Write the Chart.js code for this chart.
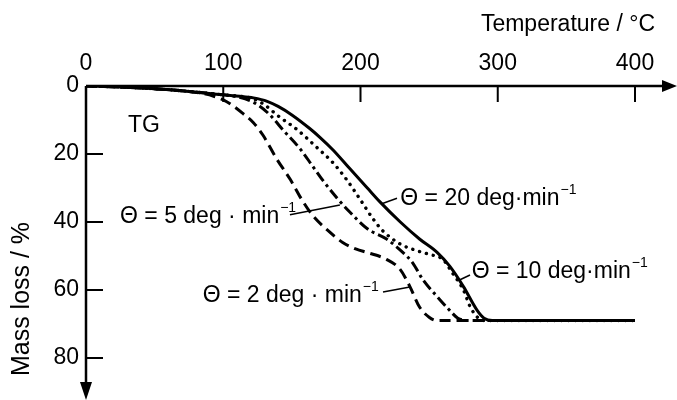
<!DOCTYPE html>
<html>
<head>
<meta charset="utf-8">
<script src="https://cdn.jsdelivr.net/npm/chart.js@4/dist/chart.umd.min.js"></script>
<style>
html,body{margin:0;padding:0;background:#fff}
</style>
</head>
<body>
<canvas id="chart" width="677" height="400"></canvas>
<script>

const xTicks=[0,100,200,300,400]
const yTicks=[0,20,40,60,80]

// heating rate 20 deg/min (solid)
const temp20=[0,25,50,75,100,112,122,132,140,150,163,171,180,192,205,214,229,243,256,265,275,285,290,296,400]
const loss20=[0,0.3,0.8,1.6,2.6,3.0,3.5,4.5,6,8.5,12.5,15.3,18.8,24.2,30,34,40,45,49,53,59,66,68.3,69,69]

// 10 deg/min (dotted)
const temp10=[0,25,50,75,100,112,122,130,140,154,168,180,190,200,209,216,229,240,250,260,267,275,280,286,292,400]
const loss10=[0,0.3,0.8,1.6,2.6,3.0,3.8,5.5,8.8,12.9,18,22.6,27.6,33.5,39,42.5,46.5,48.3,49.5,51,55,60,65,68.3,69,69]

// 5 deg/min (dash-dot)
const temp5=[0,25,50,75,100,108,116,125,134,143.5,156,165,173,183,192,205,219,231,238,245.5,256,265,271,280,400]
const loss5=[0,0.3,0.8,1.6,2.6,3.0,3.8,5.5,8.5,12.9,18.5,23.5,28,33,37,42,45,49,52,57,62,66,68.3,69,69]

// 2 deg/min (dashed)
const temp2=[0,25,50,75,85,93,100,107,114,122,129,139,149,156,165,176,187,197,205,219,229,236,243,250,256,400]
const loss2=[0,0.3,0.8,1.6,2.2,3.0,4.1,5.8,8,10.8,14.5,21.5,27.6,32.6,38,42.4,46,48,49,51,54,59,65,68,69,69]

const rateLabels=["Θ = 20 deg·min","Θ = 10 deg·min","Θ = 5 deg · min","Θ = 2 deg · min"]

const F="'Liberation Sans', Arial, sans-serif"

function pts(t,m){
return t.map((v,i)=>({x:v,y:m[i]}))
}

function ds(t,m,dash,w){
return {
data:pts(t,m),
borderColor:"#000",
borderWidth:w,
borderDash:dash,
borderCapStyle:dash.length&&dash[0]<1?"round":"butt",
pointRadius:0,
cubicInterpolationMode:"monotone",
fill:false
}
}

// label spots in data units: text start, then leader line
const notes=[
{text:rateLabels[0],t:229,m:35,lead:[215,34.7,226.6,33]},
{text:rateLabels[1],t:281,m:56.5,lead:[272.5,57,279.8,55.6]},
{text:rateLabels[2],t:24.8,m:40.3,lead:[148.6,37.9,185,35]},
{text:rateLabels[3],t:85,m:63.5,lead:[216.4,60.6,236,59.1]}
]

const decor={
id:"decor",
afterDraw(chart){
let c=chart.ctx
let sx=chart.scales.x, sy=chart.scales.y
let x0=sx.getPixelForValue(0), y0=sy.getPixelForValue(0)
let xEnd=chart.width-12, yEnd=chart.height-15
c.save()
c.strokeStyle="#000"
c.fillStyle="#000"
c.lineWidth=2.5
c.lineCap="butt"

c.beginPath()
c.moveTo(x0,y0);c.lineTo(xEnd,y0)
c.moveTo(x0,y0);c.lineTo(x0,yEnd)
c.stroke()

// arrow heads
c.beginPath()
c.moveTo(chart.width,y0);c.lineTo(xEnd-3,y0-6);c.lineTo(xEnd-3,y0+6);c.closePath()
c.fill()
c.beginPath()
c.moveTo(x0,chart.height);c.lineTo(x0-6,yEnd-3);c.lineTo(x0+6,yEnd-3);c.closePath()
c.fill()

// inward ticks
c.lineWidth=2
c.beginPath()
xTicks.forEach(v=>{
if(v==0) return
let p=sx.getPixelForValue(v)
c.moveTo(p,y0);c.lineTo(p,y0+16)
})
yTicks.forEach(v=>{
if(v==0) return
let p=sy.getPixelForValue(v)
c.moveTo(x0,p);c.lineTo(x0+17,p)
})
c.stroke()

// axis titles
c.font="23px "+F
c.textAlign="right"
c.textBaseline="middle"
c.fillText("Temperature / °C",655,25)

c.save()
c.translate(22,299)
c.rotate(-Math.PI/2)
c.textAlign="center"
c.font="25px "+F
c.fillText("Mass loss / %",0,0)
c.restore()

c.textAlign="left"
c.textBaseline="alphabetic"
c.font="23px "+F
c.fillText("TG",sx.getPixelForValue(30.6),sy.getPixelForValue(13.5))

// rate labels
c.lineWidth=1.5
notes.forEach(n=>{
let px=sx.getPixelForValue(n.t), py=sy.getPixelForValue(n.m)
c.font="23px "+F
c.fillText(n.text,px,py)
let w=c.measureText(n.text).width
c.font="14px "+F
c.fillText("−1",px+w+1,py-11)
let l=n.lead
c.beginPath()
c.moveTo(sx.getPixelForValue(l[0]),sy.getPixelForValue(l[1]))
c.lineTo(sx.getPixelForValue(l[2]),sy.getPixelForValue(l[3]))
c.stroke()
})

c.restore()
}
}

new Chart(document.getElementById("chart"),{
type:"line",
data:{
datasets:[
ds(temp2,loss2,[11,6],3),
ds(temp5,loss5,[11,4,3,4],3),
ds(temp10,loss10,[0.1,7],3.4),
ds(temp20,loss20,[],3)
]
},
options:{
responsive:false,
animation:false,
devicePixelRatio:1,
layout:{padding:{left:0,top:0,right:42,bottom:42}},
plugins:{legend:{display:false},tooltip:{enabled:false}},
scales:{
x:{
type:"linear",
position:"top",
min:0,max:400,
afterFit(s){s.height=86},
afterBuildTicks(s){s.ticks=xTicks.map(v=>({value:v}))},
grid:{display:false,drawTicks:false},
border:{display:false},
ticks:{color:"#000",font:{family:F,size:23},padding:9,maxRotation:0}
},
y:{
type:"linear",
reverse:true,
min:0,max:80,
afterFit(s){s.width=86},
afterBuildTicks(s){s.ticks=yTicks.map(v=>({value:v}))},
grid:{display:false,drawTicks:false},
border:{display:false},
ticks:{color:"#000",font:{family:F,size:23},padding:7}
}
}
},
plugins:[decor]
})

</script>
</body>
</html>
